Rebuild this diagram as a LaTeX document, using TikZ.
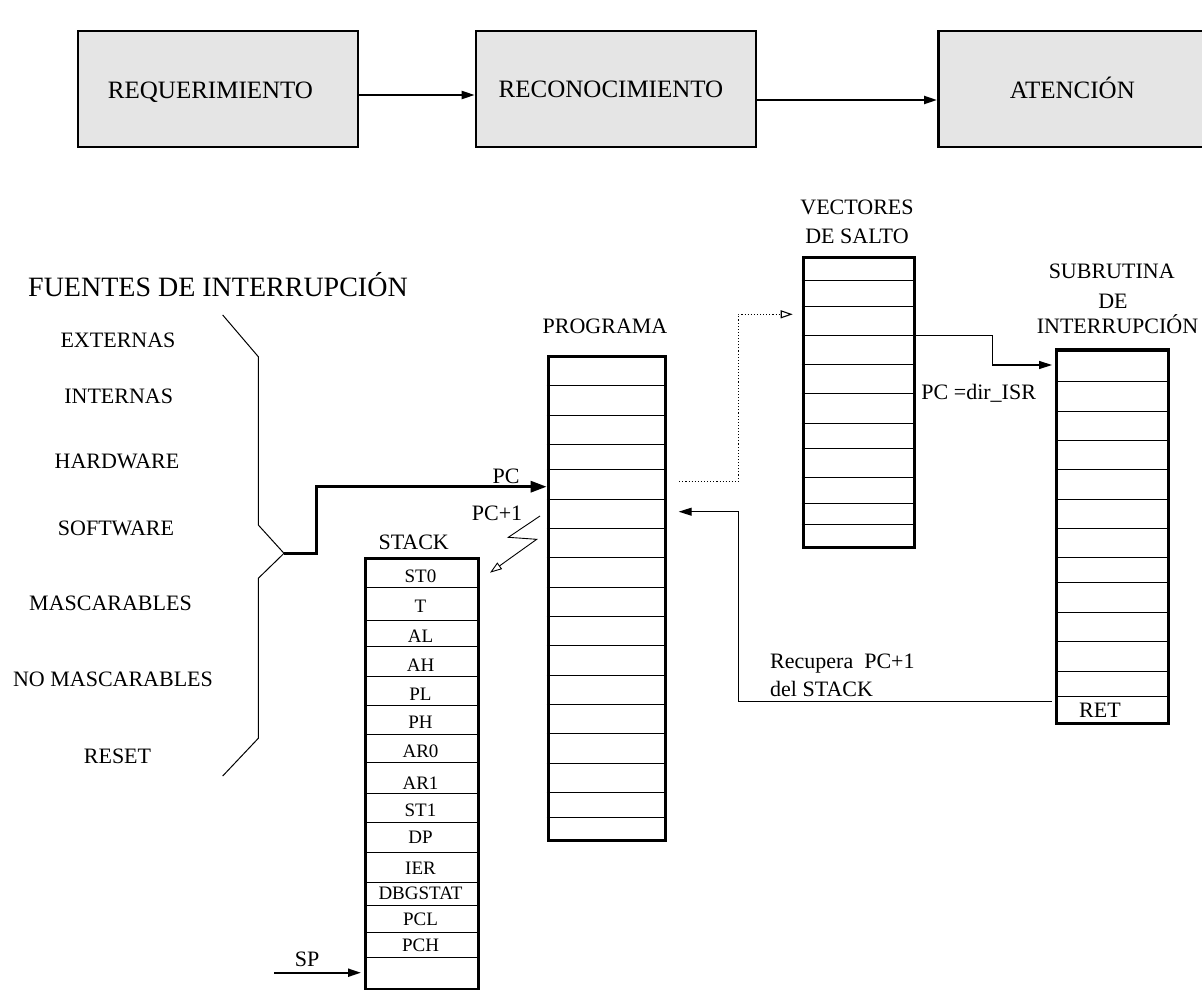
\documentclass[tikz,border=0pt]{standalone}
\usepackage{fontspec}
\setmainfont{Liberation Serif}
\usetikzlibrary{arrows.meta}
\begin{document}
\begin{tikzpicture}[x=1pt,y=-1pt,
  topbox/.style={draw, line width=2.6pt, fill=black!10, minimum width=280pt, minimum height=116pt, inner sep=0pt, text depth=0pt, font=\fontsize{25}{28}\selectfont},
  mem/.style={draw, line width=3.2pt, inner sep=0pt, anchor=north west},
  lbl/.style={inner sep=0pt, font=\fontsize{22}{26}\selectfont},
  slbl/.style={inner sep=0pt, font=\fontsize{19}{22}\selectfont},
  row/.style={line width=0.9pt},
  fillarrow/.style={-{Triangle[length=13pt,width=8pt]}},
  openarrow/.style={-{Triangle[open,length=12pt,width=8pt]}}
]
\useasboundingbox (0,0) rectangle (1202,990);
\clip (0,0) rectangle (1202,990);

% ---------- top flow ----------
\node[topbox] (req) at (218,89) {\hspace*{-15pt}\raisebox{-3pt}{REQUERIMIENTO}};
\node[topbox] (rec) at (616,89) {\hspace*{-10pt}RECONOCIMIENTO};
\node[topbox, minimum width=276pt, anchor=west] (ate) at (937,89) {\hspace*{-8pt}\raisebox{2pt}{ATENCIÓN}};
\draw[line width=2.2pt, fillarrow] ([yshift=-6pt]req.east) -- ([yshift=-6pt]rec.west);
\draw[line width=2.2pt, fillarrow] ([yshift=-11pt]rec.east) -- ([yshift=-11pt]ate.west);

% ---------- sources ----------
\node[inner sep=0pt, anchor=west, font=\fontsize{28}{31}\selectfont] (fuentes) at (28,285) {FUENTES DE INTERRUPCIÓN};
\node[lbl] (ext) at (118,340) {EXTERNAS};
\node[lbl] (int) at (118.7,396) {INTERNAS};
\node[lbl] (hw) at (117,461.7) {HARDWARE};
\node[lbl] (sw) at (116,528.3) {SOFTWARE};
\node[lbl] (masc) at (110.5,603.3) {MASCARABLES};
\node[lbl] (nomasc) at (113,679.3) {NO MASCARABLES};
\node[lbl] (reset) at (117.5,756.7) {RESET};

% brace
\coordinate (brtip) at (284,553.3);
\draw[line width=1pt] (222.7,315) -- (258.3,356.7) -- (258.3,525) -- (brtip) -- (258.3,578.3) -- (258.3,738.3) -- (222.7,776);

% ---------- memory blocks ----------
\node[mem, minimum width=117.3pt, minimum height=484pt] (prog) at (546.7,355) {};
\node[lbl, anchor=base] (progl) at (605,333) {PROGRAMA};
\foreach \y in {385.7,415,444.3,469.3,499.3,528.3,557.7,587,616.3,645.3,675,704.3,733.7,763,792.3,817.3}
  \draw[row] (546.7,\y) -- (664,\y);

\node[mem, minimum width=111pt, minimum height=290.3pt] (vect) at (801.7,255.7) {};
\node[lbl, anchor=base] (vectl) at (857,214.5) {VECTORES};
\node[lbl, anchor=base] (vectl2) at (857,243) {DE SALTO};
\foreach \y in {280.7,306,335,364.3,393.7,423,448.3,477.3,503.3,524}
  \draw[row] (801.7,\y) -- (912.7,\y);

\node[mem, minimum width=111.7pt, minimum height=373.4pt] (sub) at (1055,348.3) {};
\node[lbl, anchor=base] (subl1) at (1111.7,278) {SUBRUTINA};
\node[lbl, anchor=base] (subl2) at (1113,308) {DE};
\node[lbl, anchor=base] (subl3) at (1117.5,333) {INTERRUPCIÓN};
\foreach \y in {381.7,411,440,469.3,499,528.3,557.7,582.7,612.3,641.7,671,696}
  \draw[row] (1055,\y) -- (1166.7,\y);
\node[lbl] (ret) at (1100,710) {RET};

\node[mem, minimum width=113pt, minimum height=431pt] (stack) at (364,557) {};
\node[lbl, anchor=base] (stackl) at (413.7,549.5) {STACK};
\foreach \y in {587,620,646,676,705,734,762,793,822,852,882,905,932,957}
  \draw[row] (364,\y) -- (477,\y);
\foreach \t/\y in {ST0/576.7,T/606,AL/636.7,AH/665,PL/694,PH/722.7,AR0/751.7,AR1/783.3,ST1/810,DP/837.3,IER/868.3,DBGSTAT/893.3,PCL/919.3,PCH/945}
  \node[slbl] at (420.5,\y) {\t};

% ---------- connectors ----------
% PC
\coordinate (yPC) at (0,486.7);
\draw[line width=3pt, -{Triangle[length=16pt,width=11pt]}] (brtip) -- (316.7,553.3) |- (prog.west |- yPC);
\node[lbl, anchor=base] (pcl) at (506,483) {PC};
\node[lbl, anchor=base] (pc1l) at (497,520.5) {PC+1};

% zigzag to stack
\coordinate (zz0) at (540,516);
\coordinate (zz1) at (508.3,537.3);
\coordinate (zz2) at (536.7,539.3);
\coordinate (zz3) at (490,572.7);
\draw[line width=0.9pt, openarrow] (zz0) -- (zz1) -- (zz2) -- (zz3);

% dotted to vectors
\coordinate (yDot) at (0,481.5);
\coordinate (jd) at (738.3,314.3);
\draw[dotted, line width=1.1pt, openarrow, shorten <=12pt, shorten >=9pt] (prog.east |- yDot) -| (jd) -- (vect.west |- jd);

% vectors to ISR
\coordinate (yV) at (0,335.7);
\coordinate (jv) at (992.3,365);
\draw[line width=1.3pt, fillarrow, shorten >=3pt] (vect.east |- yV) -| (jv) -- (sub.west |- jv);
\node[lbl, anchor=base] (pcdir) at (978.7,399.5) {PC =dir\_ISR};

% return
\coordinate (yR) at (0,701);
\coordinate (jr) at (738.3,511.7);
\draw[line width=1pt, fillarrow, shorten <=3.3pt, shorten >=11.5pt] (sub.west |- yR) -| (jr) -- (prog.east |- jr);
\node[lbl, anchor=base west] (recup) at (770,668) {Recupera\ \ PC+1};
\node[lbl, anchor=base west] (delst) at (770,696) {del STACK};

% SP
\coordinate (spstart) at (274,972.7);
\node[lbl, anchor=base] (spl) at (307,966) {SP};
\draw[line width=2pt, fillarrow, shorten >=3pt] (spstart) -- (stack.west |- spstart);
\end{tikzpicture}
\end{document}
